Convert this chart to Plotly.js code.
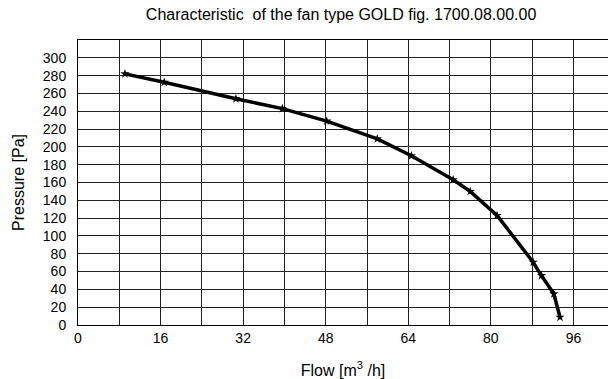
<!DOCTYPE html>
<html>
<head>
<meta charset="utf-8">
<script src="https://cdn.plot.ly/plotly-3.0.1.min.js"></script>
<style>html,body{margin:0;padding:0;background:#fff;}#chart{width:608px;height:379px;}</style>
</head>
<body>
<div id="chart"></div>
<script>
const flow = [9.1, 16.7, 30.6, 39.6, 48.2, 58.0, 64.6, 72.7, 76.0, 81.2, 88.2, 89.8, 92.2, 93.4];
const pressure = [282, 272.5, 254, 243, 229, 209, 190, 163, 150, 123, 70.5, 55.5, 35, 8.7];
const xTicks = [0, 16, 32, 48, 64, 80, 96];
const yTicks = [0, 20, 40, 60, 80, 100, 120, 140, 160, 180, 200, 220, 240, 260, 280, 300];

const trace = {
  x: flow, y: pressure, type: 'scatter', mode: 'lines+markers',
  line: {color: '#000', width: 3.5, shape: 'linear'},
  marker: {color: '#000', size: 7, symbol: 'star', line: {color: '#000', width: 0}},
  hoverinfo: 'skip'
};
const fam = "'Liberation Sans', Arial, sans-serif";
const font = {family: fam, size: 14, color: '#000'};
const layout = {
  width: 608, height: 379,
  margin: {l: 78, r: 0, t: 40, b: 54},
  paper_bgcolor: '#fff', plot_bgcolor: '#fff',
  font: font,
  showlegend: false,
  title: {text: 'Characteristic&nbsp;&nbsp;of the fan type GOLD fig. 1700.08.00.00', font: {family: fam, size: 16, color: '#000'}, x: 0.561, xanchor: 'center', y: 0.963, yanchor: 'middle'},
  xaxis: {
    range: [0, 102.7],
    showgrid: true, gridcolor: '#222', gridwidth: 1,
    showline: true, linecolor: '#000', linewidth: 1, mirror: true,
    zeroline: false, ticks: '', ticklabelstandoff: 0,
    tickmode: 'array', tickvals: xTicks, ticktext: xTicks.map(String),
    minor: {tickmode: 'linear', tick0: 0, dtick: 8, showgrid: true, gridcolor: '#222', gridwidth: 1},
    title: {text: 'Flow [m<sup>3</sup> /h]', font: {family: fam, size: 16, color: '#000'}, standoff: 20},
    tickfont: {family: fam, size: 14, color: '#000'}
  },
  yaxis: {
    range: [0, 320],
    tickmode: 'array', tickvals: yTicks, ticktext: yTicks.map(String),
    minor: {tickmode: 'linear', tick0: 0, dtick: 20, showgrid: true, gridcolor: '#222', gridwidth: 1},
    showgrid: true, gridcolor: '#222', gridwidth: 1,
    showline: true, linecolor: '#000', linewidth: 1, mirror: true,
    zeroline: false, ticks: '', ticklabelstandoff: 8,
    title: {text: 'Pressure [Pa]', font: {family: fam, size: 16, color: '#000'}, standoff: 14},
    tickfont: {family: fam, size: 14, color: '#000'}
  }
};
Plotly.newPlot('chart', [trace], layout, {displayModeBar: false, staticPlot: true});
</script>
</body>
</html>
